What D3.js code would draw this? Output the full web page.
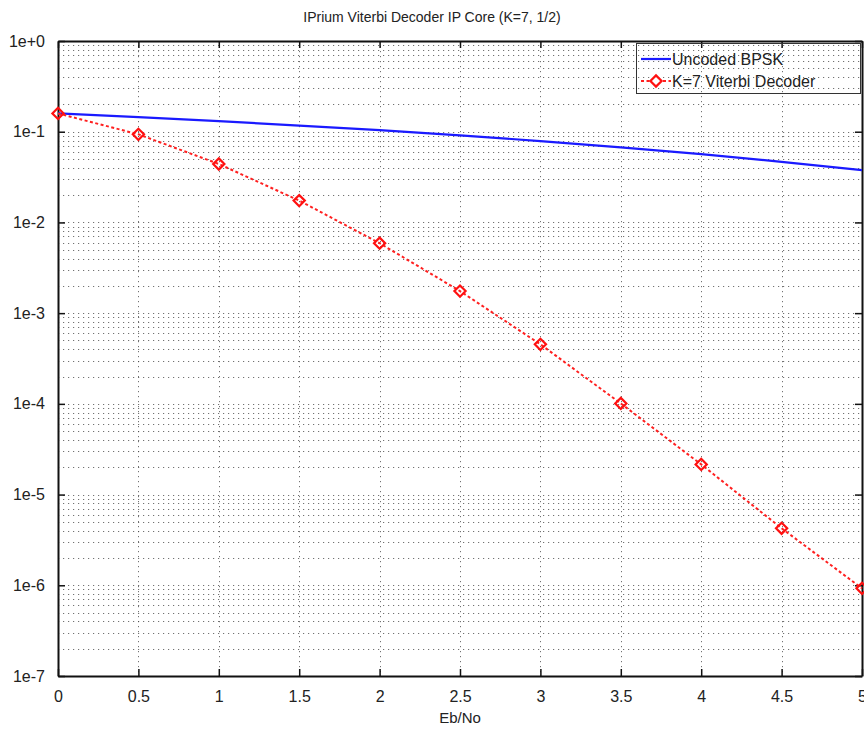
<!DOCTYPE html>
<html><head><meta charset="utf-8">
<script src="https://cdn.jsdelivr.net/npm/d3@7"></script>
<style>body{margin:0;background:#fff;} svg{display:block;}</style>
</head><body>
<script>
const ebno = [0, 0.5, 1, 1.5, 2, 2.5, 3, 3.5, 4, 4.5, 5];
const uncodedBPSK = [0.159, 0.145, 0.131, 0.117, 0.104, 0.0912, 0.0789, 0.0673, 0.0565, 0.0466, 0.0377];
const viterbiK7 = [0.159, 0.0936, 0.0441, 0.0174, 0.0059, 0.00175, 0.000453, 0.000101, 2.15e-5, 4.25e-6, 9.25e-7];
const xTicks = [0, 0.5, 1, 1.5, 2, 2.5, 3, 3.5, 4, 4.5, 5];
const yTicks = [1, 1e-1, 1e-2, 1e-3, 1e-4, 1e-5, 1e-6, 1e-7];
const yTickLabels = ["1e+0", "1e-1", "1e-2", "1e-3", "1e-4", "1e-5", "1e-6", "1e-7"];
const seriesNames = ["Uncoded BPSK", "K=7 Viterbi Decoder"];
const title = "IPrium Viterbi Decoder IP Core (K=7, 1/2)";
const xLabel = "Eb/No";

const W = 864, H = 731;
const m = {left: 58, right: 2, top: 41, bottom: 55};
const svg = d3.select("body").append("svg").attr("width", W).attr("height", H);
const font = "Liberation Sans, Arial, Helvetica, sans-serif";

const x = d3.scaleLinear().domain([0, 5]).range([m.left, W - m.right]);
const y = d3.scaleLog().domain([1e-7, 1]).range([H - m.bottom, m.top]);

const minor = [];
for (let e = -7; e < 0; e++) for (let k = 2; k <= 9; k++) minor.push(k * Math.pow(10, e));

const g = svg.append("g");
g.selectAll(".hg").data(minor.concat(yTicks.slice(1, -1))).enter().append("line")
  .attr("x1", x(0)).attr("x2", x(5))
  .attr("y1", d => Math.round(y(d)) + 0.5).attr("y2", d => Math.round(y(d)) + 0.5)
  .attr("stroke", "#444").attr("stroke-width", 1).attr("stroke-dasharray", "1.2,3.8").attr("opacity", 0.75);
g.selectAll(".vg").data(xTicks.slice(1, -1)).enter().append("line")
  .attr("x1", d => Math.round(x(d)) + 0.5).attr("x2", d => Math.round(x(d)) + 0.5)
  .attr("y1", y(1)).attr("y2", y(1e-7))
  .attr("stroke", "#444").attr("stroke-width", 1).attr("stroke-dasharray", "1.2,3.8").attr("opacity", 0.75);

const xb = d3.axisBottom(x).tickValues(xTicks).tickSizeInner(-7).tickSizeOuter(0).tickPadding(15).tickFormat(d3.format("~g"));
const xt = d3.axisTop(x).tickValues(xTicks).tickSizeInner(-7).tickSizeOuter(0).tickFormat("");
const yl = d3.axisLeft(y).tickValues(yTicks).tickSizeInner(-7).tickSizeOuter(0).tickPadding(13).tickFormat((d, i) => yTickLabels[i]);
const yr = d3.axisRight(y).tickValues(yTicks).tickSizeInner(-7).tickSizeOuter(0).tickFormat("");
function style(sel) {
  sel.selectAll("path").attr("stroke", "#111").attr("stroke-width", 2);
  sel.selectAll("line").attr("stroke", "#111").attr("stroke-width", 1.5);
  sel.selectAll("text").attr("font-family", font).attr("font-size", 16).attr("fill", "#222");
}
style(svg.append("g").attr("transform", `translate(0,${y(1e-7)})`).call(xb));
style(svg.append("g").attr("transform", `translate(0,${y(1)})`).call(xt));
style(svg.append("g").attr("transform", `translate(${x(0)},0)`).call(yl));
style(svg.append("g").attr("transform", `translate(${x(5)},0)`).call(yr));

const line = d3.line().x((d, i) => x(ebno[i])).y(d => y(d));
svg.append("path").datum(uncodedBPSK).attr("d", line).attr("fill", "none")
  .attr("stroke", "#1a1aff").attr("stroke-width", 2.2);
svg.append("path").datum(viterbiK7).attr("d", line).attr("fill", "none")
  .attr("stroke", "#ff2020").attr("stroke-width", 2).attr("stroke-dasharray", "3,2.5");
const diamond = d3.symbol().type(d3.symbolDiamond2).size(80);
svg.selectAll(".mk").data(viterbiK7).enter().append("path")
  .attr("d", diamond).attr("transform", (d, i) => `translate(${x(ebno[i])},${y(d)})`)
  .attr("fill", "none").attr("stroke", "#ff1010").attr("stroke-width", 2.2);

const lg = svg.append("g");
lg.append("rect").attr("x", 636.5).attr("y", 43.5).attr("width", 224).attr("height", 50)
  .attr("fill", "none").attr("stroke", "#333").attr("stroke-width", 1);
lg.append("line").attr("x1", 641).attr("x2", 671).attr("y1", 59).attr("y2", 59)
  .attr("stroke", "#1a1aff").attr("stroke-width", 2.2);
lg.append("line").attr("x1", 641).attr("x2", 671).attr("y1", 81).attr("y2", 81)
  .attr("stroke", "#ff2020").attr("stroke-width", 2).attr("stroke-dasharray", "3,2.5");
lg.append("path").attr("d", diamond).attr("transform", "translate(656,81)")
  .attr("fill", "#fff").attr("stroke", "#ff1010").attr("stroke-width", 2.2);
lg.selectAll(".lt").data(seriesNames).enter().append("text")
  .attr("x", 672).attr("y", (d, i) => 65 + i * 22).text(d => d)
  .attr("font-family", font).attr("font-size", 16).attr("fill", "#222");

svg.append("text").attr("x", 432).attr("y", 22).attr("text-anchor", "middle").text(title)
  .attr("font-family", font).attr("font-size", 14).attr("fill", "#222");
svg.append("text").attr("x", x(2.5)).attr("y", 723).attr("text-anchor", "middle").text(xLabel)
  .attr("font-family", font).attr("font-size", 15).attr("fill", "#222");
</script>
</body></html>
